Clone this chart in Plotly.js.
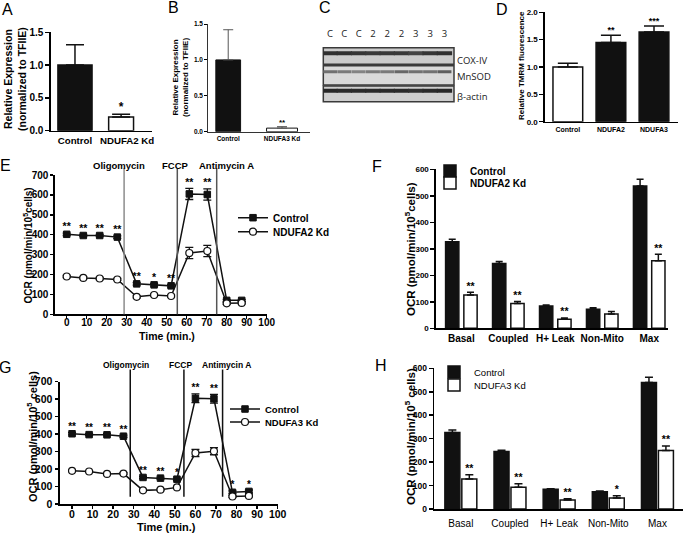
<!DOCTYPE html>
<html><head><meta charset="utf-8">
<script src="https://cdn.plot.ly/plotly-3.0.1.min.js"></script>
<style>html,body{margin:0;padding:0;background:#fff}#chart{width:683px;height:533px}</style>
</head><body><div id="chart"></div>
<script>
// ---------------- DATA ----------------
// Panel A: qPCR NDUFA2
const aLabels = ['Control', 'NDUFA2 Kd'];
const aValues = [1.0, 0.21];
const aErrors = [0.31, 0.04];
const aStars = ['', '*'];
// Panel B: qPCR NDUFA3
const bLabels = ['Control', 'NDUFA3 Kd'];
const bValues = [1.0, 0.05];
const bErrors = [0.42, 0.02];
const bStars = ['', '**'];
// Panel C: western blot (lane labels, proteins, relative band intensity 0..1)
const blotLanes = ['C', 'C', 'C', '2', '2', '2', '3', '3', '3'];
const blotProteins = ['COX-IV', 'MnSOD', 'β-actin'];
const coxIVBands = [0.85, 0.85, 0.82, 0.80, 0.80, 0.80, 0.74, 0.82, 0.85];
const mnsodBands = [0.50, 0.45, 0.40, 0.45, 0.45, 0.55, 0.50, 0.50, 0.60];
const actinBands = [0.90, 0.88, 0.88, 0.88, 0.88, 0.88, 0.85, 0.88, 0.90];
// Panel D: TMRM
const dLabels = ['Control', 'NDUFA2', 'NDUFA3'];
const dValues = [1.0, 1.45, 1.64];
const dErrors = [0.07, 0.13, 0.11];
const dStars = ['', '**', '***'];
// Panel E: OCR time course NDUFA2
const eTime = [0, 8.3, 16.5, 25.3, 35, 43.7, 52.2, 61.3, 70.3, 80, 87.5];
const eControl = [402, 396, 396, 388, 153, 148, 143, 605, 602, 70, 70];
const eControlErr = [6, 6, 6, 6, 6, 6, 6, 28, 28, 5, 5];
const eKd = [190, 183, 180, 175, 88, 97, 92, 308, 318, 55, 57];
const eKdErr = [5, 5, 5, 5, 5, 5, 5, 28, 28, 5, 5];
const eStars = ['**', '**', '**', '**', '**', '*', '**', '**', '**', '', ''];
const injections = ['Oligomycin', 'FCCP', 'Antimycin A'];
const eInjectionTimes = [28.7, 55.3, 75];
// Panel F: OCR parameters NDUFA2
const ocrCategories = ['Basal', 'Coupled', 'H+ Leak', 'Non-Mito', 'Max'];
const fControl = [327, 245, 84, 72, 537];
const fControlErr = [9, 7, 4, 6, 25];
const fKd = [126, 94, 34, 54, 255];
const fKdErr = [10, 7, 5, 9, 24];
const fStars = ['**', '**', '**', '', '**'];
// Panel G: OCR time course NDUFA3
const gTime = [0, 8.3, 17, 25, 34.5, 43, 51, 60, 69, 78, 86];
const gControl = [402, 397, 396, 388, 152, 148, 142, 605, 602, 67, 72];
const gControlErr = [6, 6, 6, 6, 6, 6, 6, 25, 25, 8, 8];
const gKd = [190, 186, 172, 174, 78, 82, 95, 292, 302, 43, 46];
const gKdErr = [5, 5, 5, 5, 5, 5, 5, 20, 20, 5, 5];
const gStars = ['**', '**', '**', '**', '**', '**', '*', '**', '**', '*', '*'];
const gInjectionTimes = [28.3, 54.4, 73.2];
// Panel H: OCR parameters NDUFA3
const hControl = [326, 245, 84, 74, 539];
const hControlErr = [11, 5, 2, 3, 23];
const hKd = [128, 93, 38, 47, 249];
const hKdErr = [18, 15, 6, 10, 20];
const hStars = ['**', '**', '**', '*', '**'];

// ---------------- HELPERS ----------------
const W = 683, H = 533;
const FF = 'Liberation Sans, Arial, Helvetica, sans-serif';
const px = v => v / W;
const py = v => 1 - v / H;
const dom = (a, b) => [px(a), px(b)];
const domY = (top, bottom) => [py(bottom), py(top)];
const idx = arr => arr.map((_, i) => i);
const addErr = (v, e) => v.map((x, i) => x + e[i]);
const shift = (arr, d) => arr.map(x => x + d);
const font = (size, bold, color) => ({family: FF, size: size, weight: bold ? 'bold' : 'normal', color: color || '#000'});

function axis(extra) {
  return Object.assign({
    showline: true, linecolor: '#000', linewidth: 1.6, mirror: false, tickangle: 0,
    ticks: 'outside', ticklen: 4, tickwidth: 1.5, tickcolor: '#000',
    showgrid: false, zeroline: false, fixedrange: true, automargin: false
  }, extra);
}
function barTrace(x, y, err, colors, width, offset, xa, ya, opts) {
  opts = opts || {};
  return {
    type: 'bar', x: x, y: y, width: width, offset: offset,
    marker: {color: colors, line: {color: '#111', width: opts.lw || 1.5}},
    error_y: {type: 'data', array: err, arrayminus: err.map(() => 0), symmetric: false,
      color: opts.ec || '#111', thickness: opts.et || 1.5, width: opts.ew || 4},
    xaxis: xa, yaxis: ya, showlegend: false, hoverinfo: 'skip'
  };
}
function starTrace(x, y, stars, xa, ya, size) {
  const keep = stars.map((s, i) => s ? i : -1).filter(i => i >= 0);
  return {type: 'scatter', mode: 'text', x: keep.map(i => x[i]), y: keep.map(i => y[i]), text: keep.map(i => stars[i]),
    textposition: 'top center', textfont: font(size, true), xaxis: xa, yaxis: ya, showlegend: false,
    hoverinfo: 'skip', cliponaxis: false};
}
function lineTrace(x, y, err, name, isCtrl, xa, ya, leg) {
  return {type: 'scatter', mode: 'lines+markers', x: x, y: y, name: name,
    line: {color: '#111', width: 1.5},
    marker: isCtrl ? {symbol: 'square', size: 6.5, color: '#111', line: {color: '#111', width: 1}}
                   : {symbol: 'circle', size: 7, color: '#fff', line: {color: '#111', width: 1.2}},
    error_y: {type: 'data', array: err, color: '#111', thickness: 1.3, width: 4},
    xaxis: xa, yaxis: ya, legend: leg, showlegend: true, hoverinfo: 'skip', cliponaxis: false};
}
function bandTrace(vals, yPos, xa, ya, size, lw) {
  const cols = vals.map(v => { const g = Math.round(205 - 185 * v); return 'rgb(' + g + ',' + g + ',' + g + ')'; });
  return {type: 'scatter', mode: 'markers', x: idx(vals), y: vals.map(() => yPos),
    marker: {symbol: 'line-ew', size: size, color: cols, line: {color: cols, width: lw}},
    xaxis: xa, yaxis: ya, showlegend: false, hoverinfo: 'skip'};
}

// ---------------- TRACES ----------------
const traces = [];
// A
traces.push(barTrace(idx(aValues), aValues, aErrors, ['#111', '#fff'], [0.74, 0.54], [-0.37, -0.27], 'x', 'y', {ew: 9}));
traces.push(starTrace(idx(aValues), addErr(aValues, aErrors), aStars, 'x', 'y', 12));
// B
traces.push(barTrace(idx(bValues), bValues, bErrors, ['#111', '#fff'], [0.46, 0.575], [-0.23, -0.2875], 'x2', 'y2', {lw: 1, ec: '#555', et: 1, ew: 5}));
traces.push(starTrace(idx(bValues), addErr(bValues, bErrors), bStars, 'x2', 'y2', 8));
// C bands
traces.push(bandTrace(coxIVBands, 0.66, 'x3', 'y3', 11, 4));
traces.push(bandTrace(mnsodBands, 0.69, 'x4', 'y4', 10, 3));
traces.push(bandTrace(actinBands, 0.70, 'x5', 'y5', 11, 4));
// D
traces.push(barTrace(idx(dValues), dValues, dErrors, ['#fff', '#111', '#111'], 0.69, -0.345, 'x6', 'y6', {ew: 10}));
traces.push(starTrace(idx(dValues), addErr(dValues, dErrors), dStars, 'x6', 'y6', 9));
// E
traces.push(lineTrace(eTime, eControl, eControlErr, 'Control', true, 'x7', 'y7', 'legend'));
traces.push(lineTrace(eTime, eKd, eKdErr, 'NDUFA2 Kd', false, 'x7', 'y7', 'legend2'));
traces.push(starTrace(eTime, addErr(eControl, eControlErr), eStars, 'x7', 'y7', 10.5));
// F
const fOff = 0.053, fW = 0.283;
traces.push(Object.assign(barTrace(idx(fControl), fControl, fControlErr, '#111', fW, -fW - fOff, 'x8', 'y8', {ew: 3.5}),
  {name: 'Control', showlegend: true, legend: 'legend3'}));
traces.push(Object.assign(barTrace(idx(fKd), fKd, fKdErr, '#fff', fW, fOff, 'x8', 'y8', {ew: 3.5}),
  {name: 'NDUFA2 Kd', showlegend: true, legend: 'legend4'}));
traces.push(starTrace(shift(idx(fKd), fOff + fW / 2), addErr(fKd, fKdErr), fStars, 'x8', 'y8', 10.5));
// G
traces.push(lineTrace(gTime, gControl, gControlErr, 'Control', true, 'x9', 'y9', 'legend5'));
traces.push(lineTrace(gTime, gKd, gKdErr, 'NDUFA3 Kd', false, 'x9', 'y9', 'legend6'));
traces.push(starTrace(gTime, addErr(gControl, gControlErr), gStars, 'x9', 'y9', 10));
// H
const hOff = 0.02, hW = 0.305;
traces.push(Object.assign(barTrace(idx(hControl), hControl, hControlErr, '#111', hW, -hW - hOff, 'x10', 'y10', {ew: 4}),
  {name: 'Control', showlegend: true, legend: 'legend7'}));
traces.push(Object.assign(barTrace(idx(hKd), hKd, hKdErr, '#fff', hW, hOff, 'x10', 'y10', {ew: 4}),
  {name: 'NDUFA3 Kd', showlegend: true, legend: 'legend8'}));
traces.push(starTrace(shift(idx(hKd), hOff + hW / 2), addErr(hKd, hKdErr), hStars, 'x10', 'y10', 10.5));

// ---------------- LAYOUT ----------------
const hidden = {visible: false, fixedrange: true};
const catAxis = (domain, range, labels, size, bold, extra) => axis(Object.assign({domain: domain, range: range,
  tickvals: idx(labels), ticktext: labels, ticks: '', tickfont: font(size, bold)}, extra || {}));
const numAxis = (domain, range, step, fmt, size, extra) => axis(Object.assign({domain: domain, range: range,
  tick0: 0, dtick: step, tickformat: fmt, tickfont: font(size, true)}, extra || {}));
const blotY = (top, bottom, labelPos, label, anchor) => ({domain: domY(top, bottom), range: [0, 1], anchor: anchor,
  side: 'right', showline: false, showgrid: false, zeroline: false, ticks: '', tickvals: [labelPos], ticktext: [label],
  tickfont: {family: 'Open Sans, Noto Sans, sans-serif', size: 9.5, color: '#222'}, fixedrange: true, ticklabelstandoff: 2});

function legendAt(xpx, ypx, size, bold) {
  return {x: px(xpx), y: py(ypx), xanchor: 'left', yanchor: 'middle', bgcolor: 'rgba(0,0,0,0)',
    borderwidth: 0, font: font(size, bold), itemwidth: 30, tracegroupgap: 0};
}
function ann(text, xpx, ypx, size, bold, extra) {
  return Object.assign({text: text, xref: 'paper', yref: 'paper', x: px(xpx), y: py(ypx), showarrow: false,
    xanchor: 'center', yanchor: 'middle', font: font(size, bold)}, extra || {});
}
const vtitle = (text, xpx, ypx, size) => ann(text, xpx, ypx, size, true, {textangle: -90});

const shapes = [];
const blotBg = [['x3', 'y3', '#cbcbcb'], ['x4', 'y4', '#d9d9d9'], ['x5', 'y5', '#cecece']];
blotBg.forEach(b => shapes.push({type: 'rect', xref: b[0] + ' domain', yref: b[1] + ' domain', x0: 0, x1: 1, y0: 0, y1: 1,
  fillcolor: b[2], line: {color: '#3a3a3a', width: 1.5}, layer: 'below'}));
const eLineColors = ['#8c8c8c', '#555', '#555'];
eInjectionTimes.forEach((t, i) => shapes.push({type: 'line', xref: 'x7', yref: 'y7 domain', x0: t, x1: t, y0: 0, y1: 1.05,
  line: {color: eLineColors[i], width: 1.5}}));
gInjectionTimes.forEach(t => shapes.push({type: 'line', xref: 'x9', yref: 'y9 domain', x0: t, x1: t, y0: 0.06, y1: 1.1,
  line: {color: '#111', width: 1.5}}));

const annotations = [
  ann('A', 7, 9, 16, false), ann('B', 173, 8, 16, false), ann('C', 325, 8, 16, false), ann('D', 502, 9, 16, false),
  ann('E', 5, 165, 16, false), ann('F', 377, 166, 16, false), ann('G', 5, 367, 16, false), ann('H', 381, 365, 16, false),
  vtitle('Relative Expression<br>(normalized to TFIIE)', 15, 79, 10.5),
  vtitle('Relative Expression<br>(normalized to TFIIE)', 180, 78, 8),
  vtitle('Relative TMRM fluorescence', 522, 66, 8),
  vtitle('OCR (pmol/min/10<sup>5</sup>cells)', 27.5, 246, 10),
  vtitle('OCR (pmol/min/10<sup>5</sup>cells)', 410, 249, 11.5),
  vtitle('OCR (pmol/min/10<sup>5</sup> cells)', 32, 437, 11),
  vtitle('OCR (pmol/min/10<sup>5</sup> cells)', 410, 437, 11.5),
  ann('Time (min.)', 167, 336, 10.5, true),
  ann('Time (min.)', 166, 527, 11, true)
];
const eShift = [-5, -2, 10], gShift = [-4, -3, 4];
injections.forEach((name, i) => {
  annotations.push({text: name, xref: 'x7', yref: 'paper', x: eInjectionTimes[i], y: py(165), xshift: eShift[i],
    showarrow: false, xanchor: 'center', yanchor: 'middle', font: font(9.5, true)});
  annotations.push({text: name, xref: 'x9', yref: 'paper', x: gInjectionTimes[i], y: py(365), xshift: gShift[i],
    showarrow: false, xanchor: 'center', yanchor: 'middle', font: font(8.5, true)});
});

const layout = {
  width: W, height: H, margin: {l: 0, r: 0, t: 0, b: 0}, autosize: false,
  paper_bgcolor: '#fff', plot_bgcolor: 'rgba(0,0,0,0)', barmode: 'overlay', showlegend: true,
  font: {family: FF, color: '#000'},
  // A
  xaxis: catAxis(dom(51, 152), [-0.52, 1.67], aLabels, 9.7, true, {anchor: 'y', tickvals: [0, 1.13]}),
  yaxis: numAxis(domY(32.3, 130.7), [0, 1.5], 0.5, '.1f', 10, {anchor: 'x'}),
  // B
  xaxis2: catAxis(dom(208.3, 310), [-0.37, 1.52], bLabels, 6.5, true, {anchor: 'y2', linewidth: 1, linecolor: '#333'}),
  yaxis2: numAxis(domY(24, 131.7), [0, 1.5], 0.5, '.1f', 6.5, {anchor: 'x2', linewidth: 1, linecolor: '#333', ticklen: 3, tickwidth: 1}),
  // C
  xaxis3: {domain: dom(323.3, 454), range: [-0.47, 8.67], anchor: 'y3', side: 'top', showline: false, showgrid: false,
    zeroline: false, ticks: '', tickvals: idx(blotLanes), ticktext: blotLanes, tickangle: 0,
    tickfont: {family: 'Open Sans, Noto Sans, sans-serif', size: 9.5, color: '#222'}, ticklabelstandoff: 8, fixedrange: true},
  yaxis3: blotY(47.7, 64.3, 0.2, blotProteins[0], 'x3'),
  xaxis4: Object.assign({domain: dom(323.3, 454), range: [-0.47, 8.67], anchor: 'y4'}, hidden),
  yaxis4: blotY(65.7, 85, 0.43, blotProteins[1], 'x4'),
  xaxis5: Object.assign({domain: dom(323.3, 454), range: [-0.47, 8.67], anchor: 'y5'}, hidden),
  yaxis5: blotY(86, 101.7, 0.32, blotProteins[2], 'x5'),
  // D
  xaxis6: catAxis(dom(545, 677.7), [-0.53, 2.55], dLabels, 7, true, {anchor: 'y6'}),
  yaxis6: numAxis(domY(12.3, 121.7), [0, 2], 0.5, '.1f', 8, {anchor: 'x6'}),
  // E
  xaxis7: numAxis(dom(55, 266.7), [-5.85, 100], 10, 'd', 10, {anchor: 'y7', ticklen: 3, ticklabelstandoff: -5}),
  yaxis7: numAxis(domY(175, 314.3), [0, 700], 100, 'd', 10, {anchor: 'x7', ticklen: 3}),
  // F
  xaxis8: catAxis(dom(436, 668), [-0.54, 4.4], ocrCategories, 10, true, {anchor: 'y8'}),
  yaxis8: numAxis(domY(169.3, 328.3), [0, 600], 100, 'd', 8, {anchor: 'x8'}),
  // G
  xaxis9: numAxis(dom(59.5, 277.7), [-6.1, 100], 10, 'd', 10.5, {anchor: 'y9', linewidth: 2, ticklen: 3, ticklabelstandoff: -4}),
  yaxis9: numAxis(domY(381.7, 504), [0, 700], 100, 'd', 10.5, {anchor: 'x9', linewidth: 2, ticklen: 3}),
  // H
  xaxis10: catAxis(dom(434.3, 683), [-0.54, 4.52], ocrCategories, 10, false, {anchor: 'y10', ticklabelstandoff: 4}),
  yaxis10: numAxis(domY(368.3, 509), [0, 600], 100, 'd', 8.5, {anchor: 'x10'}),
  legend: legendAt(233, 217.7, 10, true),
  legend2: legendAt(233, 231.7, 10, true),
  legend3: legendAt(430, 171, 10, true),
  legend4: legendAt(430, 183, 10, true),
  legend5: legendAt(225, 409, 9.5, true),
  legend6: legendAt(225, 422, 9.5, true),
  legend7: legendAt(434, 372, 9.5, false),
  legend8: legendAt(434, 385, 9.5, false),
  shapes: shapes,
  annotations: annotations
};

Plotly.newPlot('chart', traces, layout, {displayModeBar: false, staticPlot: true});
</script>
</body></html>
